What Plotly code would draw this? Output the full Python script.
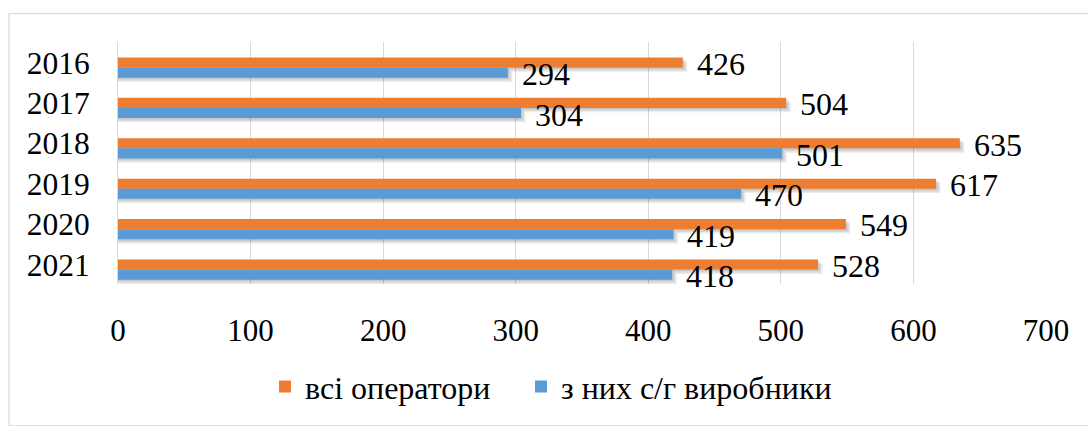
import plotly.graph_objects as go

# Data
years = ["2016", "2017", "2018", "2019", "2020", "2021"]
all_operators = [426, 504, 635, 617, 549, 528]
farm_producers = [294, 304, 501, 470, 419, 418]
series_names = ["всі оператори", "з них с/г виробники"]
x_ticks = [0, 100, 200, 300, 400, 500, 600, 700]

ORANGE = "#ED7D31"
BLUE = "#5B9BD5"
FONT = "Liberation Serif"

W, H = 1088, 426
M = dict(l=118, r=42, t=42, b=133)
plot_w = W - M["l"] - M["r"]
plot_h = H - M["t"] - M["b"]
x_range = [0, 700]
y_range = [5.358, -0.632]
px_x = (x_range[1] - x_range[0]) / plot_w          # data units per pixel (x)
px_y = abs(y_range[0] - y_range[1]) / plot_h      # category units per pixel (y)

bar_w = 0.25
offsets = [-bar_w, 0.0]
colors = [ORANGE, BLUE]
legends = ["legend", "legend2"]
series = [all_operators, farm_producers]

fig = go.Figure()

# soft drop shadow under each bar (a few translucent layers shifted down-right)
for i, vals in enumerate(series):
    for dx, dy in [(1.5, 1.5), (3, 3), (4.5, 4.5)]:
        fig.add_trace(go.Bar(
            y=years, x=[v + dx * px_x for v in vals], orientation="h",
            width=bar_w, offset=offsets[i] + dy * px_y,
            marker=dict(color="rgba(0,0,0,0.08)", line_width=0),
            showlegend=False, hoverinfo="skip",
        ))

for i, vals in enumerate(series):
    fig.add_trace(go.Bar(
        y=years, x=vals, orientation="h", name=series_names[i],
        width=bar_w, offset=offsets[i],
        marker=dict(color=colors[i], line_width=0),
        legend=legends[i],
    ))

# value labels to the right of each bar (y given as category index)
for i, vals in enumerate(series):
    shift = 5.2 - 1.5 if i == 0 else -5.2 - 1.5
    for idx, v in enumerate(vals):
        fig.add_annotation(
            x=v, y=idx, text=str(v), showarrow=False,
            xanchor="left", yanchor="middle", xshift=12, yshift=shift,
            font=dict(family=FONT, size=32, color="#000000"),
        )

def to_paper_x(px):
    return (px - M["l"]) / plot_w

def to_paper_y(py):
    return (H - M["b"] - py) / plot_h

# chart frame
fig.add_shape(
    type="rect", xref="paper", yref="paper",
    x0=to_paper_x(9), x1=to_paper_x(1100), y0=to_paper_y(440), y1=to_paper_y(12.5),
    line=dict(color="#D9D9D9", width=1.2), fillcolor="rgba(0,0,0,0)", layer="below",
)

legend_style = dict(
    orientation="h", xanchor="left", yanchor="middle", y=to_paper_y(399.5),
    font=dict(family=FONT, size=32, color="#000000"), bgcolor="rgba(0,0,0,0)",
)

fig.update_layout(
    width=W, height=H, margin=M,
    barmode="overlay",
    paper_bgcolor="white", plot_bgcolor="white",
    font=dict(family=FONT, size=31, color="#000000"),
    xaxis=dict(
        range=x_range, tickvals=x_ticks, showgrid=True, gridcolor="#D9D9D9", gridwidth=1,
        zeroline=False, showline=False, ticks="", tickfont=dict(size=31),
        ticklabelstandoff=25,
    ),
    yaxis=dict(
        range=y_range, type="category", showgrid=False, zeroline=False,
        showline=True, linecolor="#D9D9D9", linewidth=1, ticks="",
        tickfont=dict(size=31.5), ticklabelstandoff=21, ticklabelshift=5,
    ),
    legend=dict(x=to_paper_x(265), **legend_style),
    legend2=dict(x=to_paper_x(521), **legend_style),
    showlegend=True,
)

fig.write_html("out.html")
